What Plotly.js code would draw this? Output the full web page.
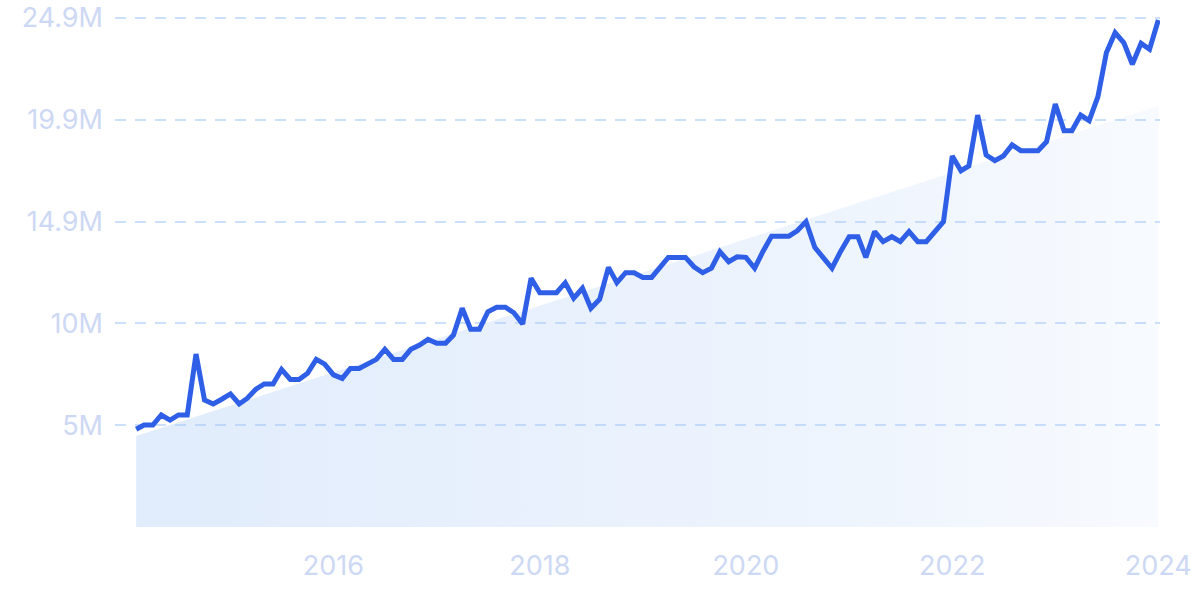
<!DOCTYPE html>
<html>
<head>
<meta charset="utf-8">
<script src="https://cdn.plot.ly/plotly-3.0.1.min.js"></script>
<style>
  html, body { margin: 0; padding: 0; background: #ffffff; }
  #chart { width: 1200px; height: 599px; }
</style>
</head>
<body>
<div id="chart"></div>
<script>
// ---- Data ----
const startMonth = '2014-02';   // first monthly observation
const values = [
  4.78, 4.99, 4.99, 5.48, 5.23, 5.48, 5.48, 8.46, 6.21, 6.02,
  6.25, 6.51, 6.02, 6.29, 6.74, 7.00, 7.00, 7.71, 7.22, 7.22,
  7.52, 8.20, 7.97, 7.44, 7.27, 7.76, 7.76, 7.97, 8.20, 8.69,
  8.20, 8.20, 8.69, 8.90, 9.18, 8.99, 8.99, 9.39, 10.70, 9.67,
  9.67, 10.53, 10.75, 10.75, 10.48, 9.93, 12.17, 11.46, 11.46, 11.46,
  11.95, 11.19, 11.68, 10.70, 11.14, 12.70, 11.95, 12.44, 12.44, 12.21,
  12.21, 12.66, 13.19, 13.19, 13.19, 12.73, 12.44, 12.66, 13.47, 12.98,
  13.22, 13.19, 12.66, 13.47, 14.23, 14.23, 14.23, 14.49, 14.94, 13.68,
  13.14, 12.66, 13.47, 14.20, 14.20, 13.19, 14.45, 13.96, 14.20, 13.96,
  14.45, 13.96, 13.96, 14.45, 14.94, 18.15, 17.43, 17.66, 20.15, 18.20,
  17.92, 18.15, 18.69, 18.41, 18.41, 18.41, 18.85, 20.69, 19.39, 19.39,
  20.15, 19.88, 21.05, 23.20, 24.18, 23.69, 22.64, 23.66, 23.37, 24.80
]; // millions
const trendDates = ['2014-02-01', '2024-01-01'];
const trendValues = [4.45, 20.6]; // millions (shaded trend area)
const yTickVals = [4.98, 9.96, 14.94, 19.92, 24.9]; // millions
const yTickText = ['5M', '10M', '14.9M', '19.9M', '24.9M'];
const xTickVals = ['2016-01-01', '2018-01-01', '2020-01-01', '2022-01-01', '2024-01-01'];
const xTickText = ['2016', '2018', '2020', '2022', '2024'];
const yMax = 24.95;

// ---- Build the monthly date axis ----
const dates = [];
{
  let [y, m] = startMonth.split('-').map(Number);
  for (let i = 0; i < values.length; i++) {
    dates.push(y + '-' + String(m).padStart(2, '0') + '-01');
    m++; if (m > 12) { m = 1; y++; }
  }
}
const M = 1e6;

const trendTrace = {
  x: trendDates,
  y: trendValues.map(v => v * M),
  type: 'scatter',
  mode: 'lines',
  line: { width: 0, color: 'rgba(0,0,0,0)' },
  fill: 'tozeroy',
  fillgradient: {
    type: 'horizontal',
    colorscale: [
      [0, 'rgba(160,195,245,0.32)'],
      [0.6, 'rgba(160,195,245,0.2)'],
      [1, 'rgba(160,195,245,0.08)']
    ]
  },
  hoverinfo: 'skip',
  showlegend: false
};

const lineTrace = {
  x: dates,
  y: values.map(v => v * M),
  type: 'scatter',
  mode: 'lines',
  line: { color: '#2f5fe6', width: 5, shape: 'linear' },
  showlegend: false
};

const tickFont = { family: 'Inter, "Noto Sans", sans-serif', size: 27, color: '#cdd8f4' };

const layout = {
  width: 1200,
  height: 599,
  margin: { l: 115, r: 40, t: 17, b: 72 },
  paper_bgcolor: '#ffffff',
  plot_bgcolor: '#ffffff',
  showlegend: false,
  xaxis: {
    type: 'date',
    range: ['2013-11-18', '2024-01-07'],
    tickmode: 'array',
    tickvals: xTickVals,
    ticktext: xTickText,
    showgrid: false,
    zeroline: false,
    showline: false,
    ticks: '',
    ticklabelstandoff: 20,
    tickfont: tickFont
  },
  yaxis: {
    range: [0, yMax * M],
    tickmode: 'array',
    tickvals: yTickVals.map(v => v * M),
    ticktext: yTickText,
    showgrid: true,
    gridcolor: '#cde0fb',
    gridwidth: 2,
    griddash: '11px,9px',
    zeroline: false,
    showline: false,
    ticks: '',
    ticklabelstandoff: 11,
    tickfont: tickFont
  }
};

Plotly.newPlot('chart', [trendTrace, lineTrace], layout, { staticPlot: true, displayModeBar: false });
</script>
</body>
</html>
